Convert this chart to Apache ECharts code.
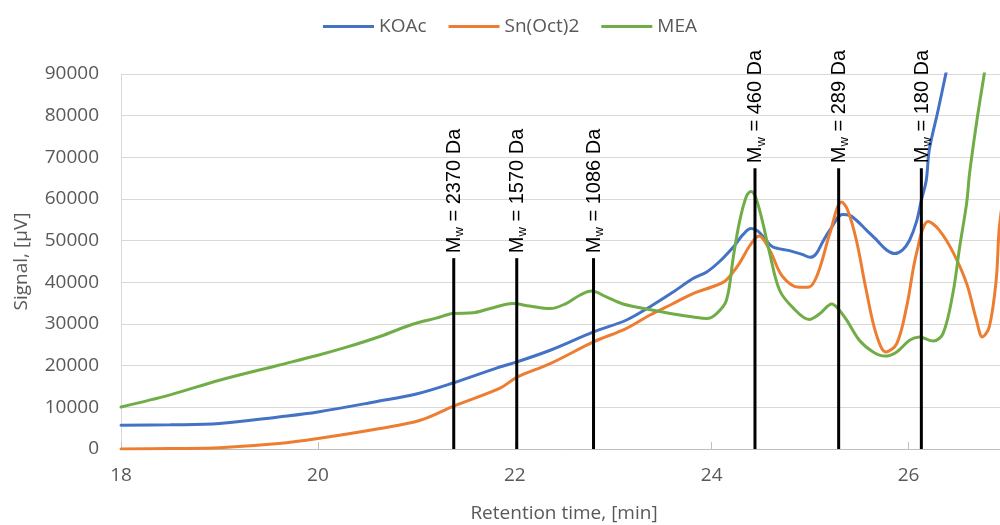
<!DOCTYPE html>
<html>
<head>
<meta charset="utf-8">
<script src="https://cdn.jsdelivr.net/npm/echarts@6/dist/echarts.min.js"></script>
<style>
html,body{margin:0;padding:0;background:#fff;}
#chart{width:1000px;height:525px;}
</style>
</head>
<body>
<div id="chart"></div>
<script>
// ---- data ----
var seriesNames = ['KOAc', 'Sn(Oct)2', 'MEA'];

var koacTime = [18.0,18.5,19.0,19.6,20.0,20.6,21.0,21.38,21.8,22.02,22.36,22.8,23.13,23.37,23.61,23.81,23.95,24.08,24.22,24.32,24.40,24.47,24.55,24.62,24.79,24.92,25.0,25.06,25.13,25.2,25.33,25.40,25.47,25.57,25.67,25.78,25.86,25.94,26.01,26.08,26.13,26.18,26.21,26.30,26.38,26.45];
var koacSignal = [5700,5800,6100,7700,8900,11400,13200,15900,19300,20900,23700,28100,30900,34100,37700,40900,42500,45000,48500,51500,52900,52300,50200,48500,47600,46700,46000,46800,49800,52500,56300,56100,54900,52600,50300,47700,46900,47800,50100,54500,59700,64500,71700,81300,90200,98000];

var snTime = [18.0,18.5,19.0,19.6,20.0,20.63,21.04,21.38,21.85,22.02,22.36,22.8,23.13,23.37,23.6,23.81,24.05,24.15,24.28,24.39,24.48,24.59,24.72,24.89,24.99,25.08,25.2,25.32,25.38,25.47,25.57,25.67,25.77,25.88,25.98,26.08,26.20,26.31,26.45,26.59,26.69,26.75,26.82,26.89,26.92,26.97];
var snSignal = [0,100,300,1300,2500,4900,6900,10300,14600,17200,20500,25700,28900,32100,34800,37300,39300,40600,44500,48900,51100,47700,41400,38800,38900,42200,51700,59300,57400,50100,38100,27700,23300,25300,34100,46900,54600,52600,47300,39700,30900,26900,29300,40500,52500,62000];

var meaTime = [18.0,18.5,19.0,19.6,20.0,20.3,20.63,20.97,21.2,21.37,21.58,21.75,21.98,22.15,22.36,22.52,22.66,22.78,22.93,23.10,23.34,23.61,23.81,23.95,24.05,24.15,24.22,24.28,24.35,24.40,24.45,24.52,24.59,24.69,24.83,24.99,25.10,25.22,25.28,25.37,25.50,25.64,25.76,25.88,26.01,26.11,26.25,26.35,26.45,26.52,26.59,26.62,26.69,26.77,26.82];
var meaSignal = [10100,13000,16500,20100,22500,24500,27000,30000,31400,32500,32700,33700,34900,34300,33700,34900,36900,37900,36500,34800,33600,32400,31700,31300,32500,35700,46100,54200,60500,61800,60200,54200,46900,38100,33800,31100,32500,34800,33800,31000,26100,23300,22300,23300,26100,26900,25900,27700,37300,48600,59000,66200,78200,90200,98000];

var markerTime = [21.38, 22.02, 22.80, 24.44, 25.29, 26.13];
var markerTop = [45800, 45800, 45800, 67400, 67400, 67400];
var markerMw = ['2370', '1570', '1086', '460', '289', '180'];

var xTicks = [18, 20, 22, 24, 26];
var yTicks = [0, 10000, 20000, 30000, 40000, 50000, 60000, 70000, 80000, 90000];

// ---- build ----
function pairs(t, v) { return t.map(function (x, i) { return [x, v[i]]; }); }
var colors = ['#4472C4', '#ED7D31', '#70AD47'];
var tickFont = 'Open Sans';
var chart = echarts.init(document.getElementById('chart'), null, { renderer: 'canvas' });

var lineSeries = [pairs(koacTime, koacSignal), pairs(snTime, snSignal), pairs(meaTime, meaSignal)].map(function (d, i) {
  return {
    name: seriesNames[i], type: 'line', data: d, showSymbol: false, smooth: 0.35,
    clip: true, lineStyle: { width: 3, color: colors[i], cap: 'round' }, itemStyle: { color: colors[i] },
    z: 2
  };
});

var markerSeries = {
  type: 'custom', name: 'markers', silent: true, z: 5,
  data: markerTime.map(function (t, i) { return [t, markerTop[i]]; }),
  renderItem: function (params, api) {
    var t = api.value(0), top = api.value(1);
    var p0 = api.coord([t, 0]);
    var p1 = api.coord([t, top]);
    var lbl = markerMw[params.dataIndex];
    return {
      type: 'group',
      children: [
        { type: 'line', shape: { x1: p0[0], y1: p0[1], x2: p1[0], y2: p1[1] }, style: { stroke: '#000', lineWidth: 3 } },
        {
          type: 'text', x: p1[0] + 1, y: p1[1] - 5, rotation: Math.PI / 2,
          style: {
            text: '{m|M}{w|w}{m| = ' + lbl + ' Da}',
            align: 'left', verticalAlign: 'middle',
            rich: {
              m: { fontFamily: 'Liberation Sans', fontSize: 20, lineHeight: 22, color: '#000' },
              w: { fontFamily: 'Liberation Sans', fontSize: 13, lineHeight: 13, color: '#000', padding: [10, 0, 0, 0] }
            }
          }
        }
      ]
    };
  }
};

chart.setOption({
  animation: false,
  backgroundColor: '#fff',
  color: colors,
  legend: {
    data: seriesNames, top: 12, left: 318, icon: 'rect', itemWidth: 51, itemHeight: 3, itemGap: 22,
    textStyle: { fontFamily: tickFont, fontSize: 19, color: '#595959' }
  },
  grid: { left: 121, top: 74, height: 375, width: 886, containLabel: false, outerBoundsMode: 'none' },
  xAxis: {
    type: 'value', min: 18, max: 27, interval: 2,
    name: 'Retention time, [min]', nameLocation: 'middle', nameGap: 55,
    nameTextStyle: { fontFamily: tickFont, fontSize: 19, color: '#595959' },
    axisLine: { show: true, lineStyle: { color: '#bfbfbf', width: 1 } },
    axisTick: { show: true, inside: true, length: 7, lineStyle: { color: '#bfbfbf' } },
    axisLabel: { fontFamily: tickFont, fontSize: 19, color: '#595959', margin: 17, showMaxLabel: false,
      formatter: function (v) { return xTicks.indexOf(v) >= 0 ? String(v) : ''; } },
    splitLine: { show: false }
  },
  yAxis: {
    type: 'value', min: 0, max: 90000, interval: 10000,
    name: 'Signal, [µV]', nameLocation: 'middle', nameGap: 90,
    nameTextStyle: { fontFamily: tickFont, fontSize: 19, color: '#595959' },
    axisLine: { show: true, lineStyle: { color: '#d9d9d9', width: 1 } },
    axisTick: { show: false },
    axisLabel: { fontFamily: tickFont, fontSize: 19, color: '#595959', margin: 22,
      formatter: function (v) { return yTicks.indexOf(v) >= 0 ? String(v) : ''; } },
    splitLine: { show: true, lineStyle: { color: '#d9d9d9', width: 1 } }
  },
  series: lineSeries.concat([markerSeries])
});
</script>
</body>
</html>
